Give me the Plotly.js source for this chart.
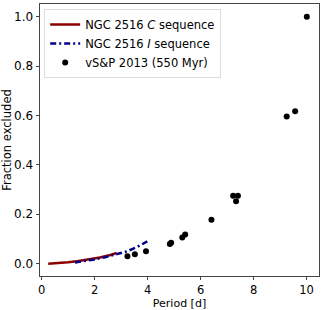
<!DOCTYPE html>
<html><head><meta charset="utf-8">
<script src="https://cdn.plot.ly/plotly-3.0.1.min.js"></script>
<style>html,body{margin:0;padding:0;background:#fff}#plot{width:324px;height:310px}</style>
</head><body><div id="plot"></div>
<script>
const cSeqPeriod = [0.25, 0.6, 1.0, 1.4, 1.8, 2.2, 2.6, 2.83];
const cSeqFrac   = [0.0, 0.002, 0.006, 0.011, 0.017, 0.025, 0.035, 0.043];
const iSeqPeriod = [1.26, 1.6, 2.0, 2.4, 2.8, 3.2, 3.6, 3.99];
const iSeqFrac   = [0.005, 0.010, 0.017, 0.026, 0.036, 0.049, 0.067, 0.090];
const vspPeriod = [3.24, 3.52, 3.94, 4.84, 4.89, 5.31, 5.42, 6.41, 7.23, 7.41, 7.34, 9.25, 9.57, 10.01];
const vspFrac   = [0.030, 0.038, 0.050, 0.080, 0.085, 0.106, 0.118, 0.178, 0.275, 0.275, 0.253, 0.596, 0.617, 1.0];

const tickFont = {family: 'DejaVu Sans', size: 12, color: '#000'};
const xTickFont = {family: 'DejaVu Sans', size: 11.5, color: '#000'};
const titleFont = {family: 'DejaVu Sans', size: 11.5, color: '#000'};
const xTitleFont = {family: 'DejaVu Sans', size: 11, color: '#000'};
const traces = [
  {x: cSeqPeriod, y: cSeqFrac, mode: 'lines', name: 'NGC 2516 <i>C</i> sequence',
   line: {color: '#8b0000', width: 2.5}},
  {x: iSeqPeriod, y: iSeqFrac, mode: 'lines', name: 'NGC 2516 <i>I</i> sequence',
   line: {color: '#00008b', width: 2.5, dash: '6px,3px,2px,3px'}},
  {x: vspPeriod, y: vspFrac, mode: 'markers', name: 'vS&P 2013 (550 Myr)',
   marker: {color: '#000', size: 6}}
];
const layout = {
  width: 324, height: 310,
  margin: {l: 40, r: 5, t: 4, b: 34},
  paper_bgcolor: '#fff', plot_bgcolor: '#fff',
  font: titleFont,
  showlegend: true,
  legend: {x: 0.015, y: 0.982, xanchor: 'left', yanchor: 'top',
    bordercolor: '#ddd', borderwidth: 1, bgcolor: 'rgba(255,255,255,0.8)',
    font: {family: 'DejaVu Sans', size: 11.5, color: '#000'}, tracegroupgap: 0, itemwidth: 30},
  xaxis: {range: [-0.06, 10.47], tickvals: [0, 2, 4, 6, 8, 10], showgrid: false, zeroline: false,
    showline: true, linecolor: '#444', linewidth: 1, mirror: true,
    ticks: 'outside', ticklen: 3, tickcolor: '#444', tickfont: xTickFont,
    title: {text: 'Period [d]', font: xTitleFont, standoff: 6}},
  yaxis: {range: [-0.05, 1.052], tickvals: [0, 0.2, 0.4, 0.6, 0.8, 1.0], tickformat: '.1f',
    showgrid: false, zeroline: false,
    showline: true, linecolor: '#444', linewidth: 1, mirror: true,
    ticks: 'outside', ticklen: 3.5, tickcolor: '#444', tickfont: tickFont,
    title: {text: 'Fraction excluded', font: titleFont, standoff: 3}}
};
Plotly.newPlot('plot', traces, layout, {displayModeBar: false, staticPlot: true});
</script></body></html>
